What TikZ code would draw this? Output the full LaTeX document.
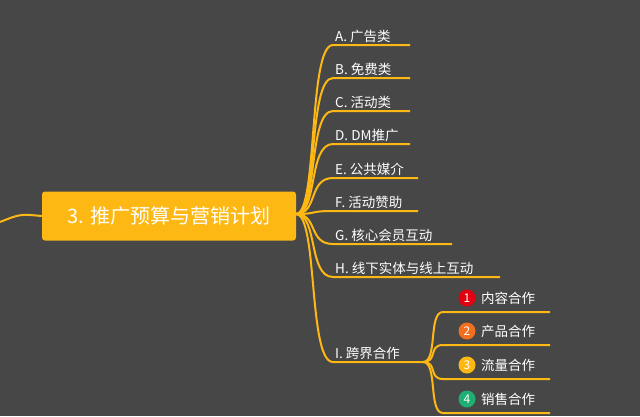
\documentclass[tikz,border=0pt]{standalone}
\usepackage{fontspec}
\newfontfamily\cjk{Noto Sans CJK SC}
\definecolor{bg}{HTML}{474747}
\definecolor{gold}{HTML}{FDB813}
\definecolor{nred}{HTML}{E00010}
\definecolor{nora}{HTML}{F07020}
\definecolor{ngrn}{HTML}{1FAF72}
\begin{document}
\begin{tikzpicture}[x=1pt,y=-1pt,
  conn/.style={gold,line width=2pt},
  lbl/.style={text=white,font=\cjk\fontsize{13.5}{15}\selectfont,anchor=south west,inner sep=2pt},
  num/.style={circle,inner sep=0pt,minimum size=17pt,text=white,font=\cjk\fontsize{12}{13}\selectfont}]
\fill[bg] (0,0) rectangle (640,416);
\useasboundingbox (0,0) rectangle (640,416);
\node[fill=gold,rounded corners=3pt,minimum width=254pt,minimum height=49pt,text=white,font=\cjk\fontsize{20}{24}\selectfont] (c) at (169,216) {3. 推广预算与营销计划};
\coordinate (L) at (0,222);
\draw[conn] (L) .. controls (20,214) .. (c.west);
\coordinate (o) at (296,214);
\foreach \n/\t/\y/\e in {a/A. 广告类/45/410,b/B. 免费类/78/410,cc/C. 活动类/111/410,d/D. DM推广/144/410,e/E. 公共媒介/178/418,f/F. 活动赞助/211/418,g/G. 核心会员互动/244/452,h/H. 线下实体与线上互动/277/500,i/I. 跨界合作/362/423}{
  \coordinate (\n s) at (333,\y);
  \coordinate (\n e) at (\e,\y);
  \node[lbl] (\n) at (\n s) {\t};
  \draw[conn] (o) .. controls (318,214) and (308,\y) .. (\n s) -- (\n e);
}
\coordinate (io) at (423,362);
\foreach \n/\k/\col/\t/\y in {p/1/nred/内容合作/312,q/2/nora/产品合作/345,r/3/gold/流量合作/379,s/4/ngrn/销售合作/413}{
  \coordinate (\n s) at (443,\y);
  \coordinate (\n e) at (550,\y);
  \node[num,fill=\col] (\n n) at (467,\y-14) {\k};
  \node[lbl,anchor=west] (\n) at (479,\y-14) {\t};
  \draw[conn] (io) .. controls (438,362) and (428,\y) .. (\n s) -- (\n e);
}
\end{tikzpicture}
\end{document}
